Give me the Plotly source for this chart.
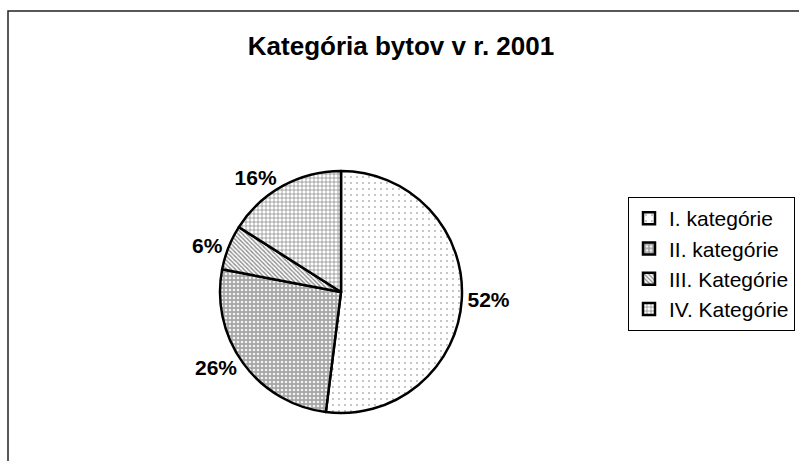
import plotly.graph_objects as go

categories = ["I. kategórie", "II. kategórie", "III. Kategórie", "IV. Kategórie"]
values = [52, 26, 6, 16]

W, H = 799, 461
cx, cy, r = 341, 292, 121

fig = go.Figure(go.Pie(
    labels=categories,
    values=values,
    sort=False,
    direction="clockwise",
    rotation=0,
    textinfo="percent",
    textposition="outside",
    texttemplate="<b>%{percent:.0%}</b>",
    textfont=dict(family="Liberation Sans, Arial", size=21, color="black"),
    marker=dict(
        colors=["white", "#a6a6a6", "white", "white"],
        line=dict(color="black", width=2.5),
        pattern=dict(
            shape=[".", ".", "\\", "+"],
            fgcolor=["#b0b0b0", "#f2f2f2", "#8c8c8c", "#8c8c8c"],
            bgcolor=["white", "#a6a6a6", "white", "white"],
            size=[6, 4, 3, 4],
            solidity=[0.08, 0.35, 0.45, 0.35],
            fillmode="replace",
        ),
    ),
    domain=dict(x=[(cx - r) / W, (cx + r) / W], y=[(H - cy - r) / H, (H - cy + r) / H]),
    hoverinfo="label+percent",
))

fig.update_layout(
    width=W, height=H,
    margin=dict(l=0, r=0, t=0, b=0),
    paper_bgcolor="white",
    plot_bgcolor="white",
    font=dict(family="Liberation Sans, Arial", color="black"),
    title=dict(text="<b>Kategória bytov v r. 2001</b>", x=401 / W, xanchor="center",
               y=1 - 46 / H, yanchor="middle", font=dict(size=26, color="black")),
    legend=dict(x=628 / W, xanchor="left", y=1 - 197 / H, yanchor="top",
                bordercolor="black", borderwidth=1, font=dict(size=21, color="black"),
                bgcolor="white", itemwidth=30),
    shapes=[dict(type="rect", xref="paper", yref="paper",
                 x0=8 / W, x1=1.2, y0=-0.2, y1=1 - 11 / H,
                 line=dict(color="#222", width=1.5), layer="below")],
)

fig.write_html("out.html", config={"displayModeBar": False},
               post_script="document.body.style.margin='0';")
